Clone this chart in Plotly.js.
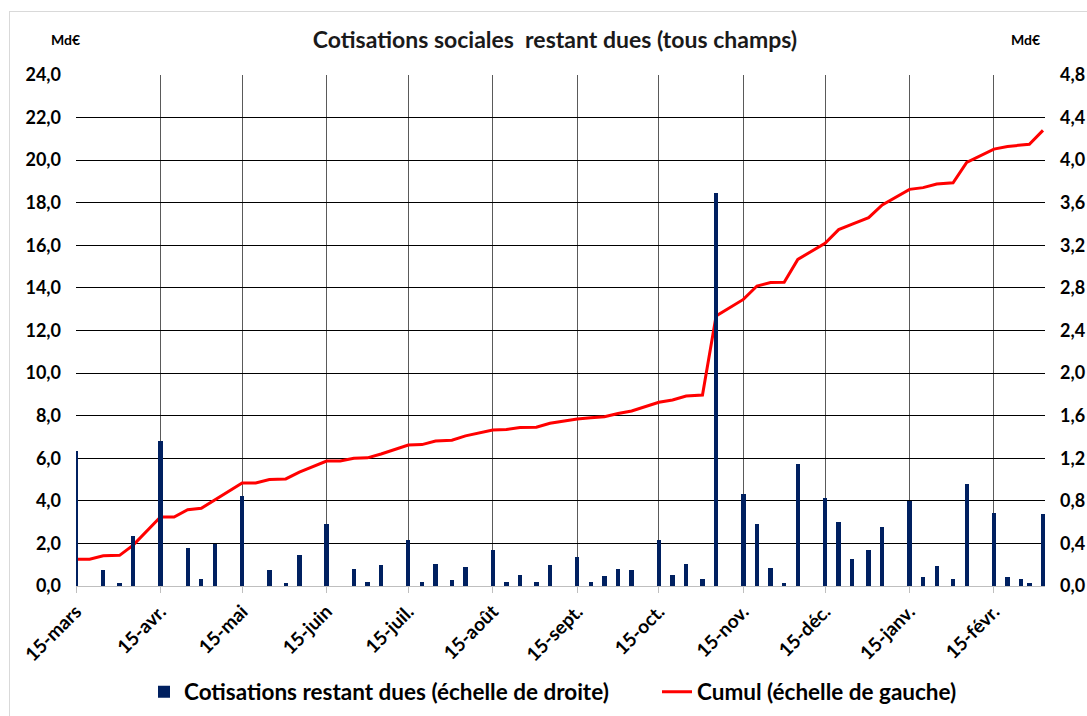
<!DOCTYPE html>
<html>
<head>
<meta charset="utf-8">
<script src="https://cdn.plot.ly/plotly-3.0.1.min.js"></script>
<style>
  html, body { margin: 0; padding: 0; background: #fff; overflow: hidden; }
  #chart { width: 1087px; height: 716px; }
  #frame { position: absolute; left: 9px; top: 11px; width: 1100px; height: 720px; border: 1px solid #d9d9d9; pointer-events: none; }
</style>
</head>
<body>
<div id="chart"></div>
<div id="frame"></div>
<script>
// Dates of the observations
const dates = [
  '2020-03-15','2020-03-20','2020-03-25','2020-03-31',
  '2020-04-05','2020-04-15','2020-04-20','2020-04-25','2020-04-30',
  '2020-05-05','2020-05-15','2020-05-20','2020-05-25','2020-05-31',
  '2020-06-05','2020-06-15','2020-06-20','2020-06-25','2020-06-30',
  '2020-07-05','2020-07-15','2020-07-20','2020-07-25','2020-07-31',
  '2020-08-05','2020-08-15','2020-08-20','2020-08-25','2020-08-31',
  '2020-09-05','2020-09-15','2020-09-20','2020-09-25','2020-09-30',
  '2020-10-05','2020-10-15','2020-10-20','2020-10-25','2020-10-31',
  '2020-11-05','2020-11-15','2020-11-20','2020-11-25','2020-11-30',
  '2020-12-05','2020-12-15','2020-12-20','2020-12-25','2020-12-31',
  '2021-01-05','2021-01-15','2021-01-20','2021-01-25','2021-01-31',
  '2021-02-05','2021-02-15','2021-02-20','2021-02-25','2021-02-28',
  '2021-03-05'
];

// Cotisations restant dues (échelle de droite), Md€
const dues = [
  1.27, 0, 0.15, 0.03,
  0.47, 1.36, 0, 0.36, 0.07,
  0.39, 0.85, 0, 0.15, 0.03,
  0.29, 0.58, 0, 0.157, 0.035,
  0.197, 0.43, 0.035, 0.21, 0.053,
  0.176, 0.335, 0.035, 0.10, 0.035,
  0.20, 0.27, 0.035, 0.094, 0.157,
  0.147, 0.43, 0.10, 0.21, 0.07,
  3.69, 0.86, 0.58, 0.166, 0.03,
  1.146, 0.83, 0.60, 0.25, 0.335,
  0.55, 0.80, 0.08, 0.19, 0.07,
  0.955, 0.69, 0.087, 0.07, 0.03,
  0.68
];

// Cumul (échelle de gauche), Md€
const cumul = [
  1.26, 1.26, 1.42, 1.44,
  1.92, 3.24, 3.24, 3.58, 3.65,
  4.04, 4.84, 4.84, 5.00, 5.03,
  5.35, 5.87, 5.87, 6.00, 6.02,
  6.20, 6.62, 6.64, 6.81, 6.85,
  7.05, 7.33, 7.35, 7.44, 7.46,
  7.64, 7.84, 7.90, 7.95, 8.10,
  8.22, 8.63, 8.74, 8.92, 8.97,
  12.68, 13.46, 14.09, 14.25, 14.27,
  15.34, 16.10, 16.74, 17.00, 17.30,
  17.90, 18.63, 18.71, 18.88, 18.94,
  19.90, 20.52, 20.64, 20.71, 20.75,
  21.40
];

const tickDates = ['2020-03-15','2020-04-15','2020-05-15','2020-06-15','2020-07-15','2020-08-15',
                   '2020-09-15','2020-10-15','2020-11-15','2020-12-15','2021-01-15','2021-02-15'];
const tickLabels = ['15-mars','15-avr.','15-mai','15-juin','15-juil.','15-août',
                    '15-sept.','15-oct.','15-nov.','15-déc.','15-janv.','15-févr.'];

const chartTitle = 'Cotisations sociales  restant dues (tous champs)';
const unitLabel = 'Md€';
const barName = 'Cotisations restant dues (échelle de droite)';
const lineName = 'Cumul (échelle de gauche)';

const FONT = 'Lato, "Open Sans", sans-serif';

const traces = [
  {
    type: 'scatter', mode: 'lines', name: lineName,
    x: dates, y: cumul, xaxis: 'x', yaxis: 'y',
    line: { color: '#ff0000', width: 3 },
    legend: 'legend2'
  },
  {
    type: 'bar', name: barName,
    x: dates, y: dues, xaxis: 'x', yaxis: 'y2',
    width: 1.6 * 86400000,
    marker: { color: '#002060', line: { width: 0 } },
    legend: 'legend'
  }
];

const legendFont = { family: FONT, size: 22.5, color: '#000', weight: 'bold' };
const legendY = (586 - 692) / 511;

const layout = {
  width: 1087, height: 716,
  margin: { l: 76, r: 42, t: 75, b: 130, autoexpand: false },
  paper_bgcolor: '#ffffff', plot_bgcolor: '#ffffff',
  separators: ', ',
  font: { family: FONT, color: '#000', size: 16 },
  showlegend: true,
  title: {
    text: '<b>' + chartTitle + '</b>',
    font: { family: FONT, size: 23, color: '#1a1a1a' },
    x: 555 / 1087, xref: 'container', xanchor: 'center',
    y: 1 - 40 / 716, yref: 'container', yanchor: 'middle'
  },
  xaxis: {
    type: 'date',
    range: ['2020-03-15', '2021-03-05 18:00'],
    tickmode: 'array', tickvals: tickDates, ticktext: tickLabels,
    tickangle: -45,
    tickfont: { family: FONT, size: 19, color: '#000', weight: 'bold' },
    showgrid: true, gridcolor: '#5a5a5a', gridwidth: 1,
    ticks: 'outside', ticklen: 6, tickcolor: '#bfbfbf',
    showline: false, zeroline: false, automargin: false,
    fixedrange: true
  },
  yaxis: {
    range: [0, 24], dtick: 2, tick0: 0,
    tickformat: '.1f',
    tickfont: { family: FONT, size: 18, color: '#000', weight: 'bold' },
    showgrid: true, gridcolor: '#000', gridwidth: 1,
    zeroline: true, zerolinecolor: '#bfbfbf', zerolinewidth: 1,
    showline: false, ticks: '', ticklabelstandoff: 14, automargin: false,
    fixedrange: true
  },
  yaxis2: {
    overlaying: 'y', side: 'right',
    range: [0, 4.8], dtick: 0.4, tick0: 0,
    tickformat: '.1f',
    tickfont: { family: FONT, size: 18, color: '#000', weight: 'bold' },
    showgrid: false, zeroline: false, showline: false, ticks: '',
    ticklabelstandoff: 14, automargin: false,
    fixedrange: true
  },
  legend: {
    orientation: 'h', x: (144 - 76) / 969, xanchor: 'left', xref: 'paper',
    y: legendY, yanchor: 'middle',
    font: legendFont, itemwidth: 30
  },
  legend2: {
    orientation: 'h', x: (657 - 76) / 969, xanchor: 'left', xref: 'paper',
    y: legendY, yanchor: 'middle',
    font: legendFont, itemwidth: 30
  },
  annotations: [
    { text: '<b>' + unitLabel + '</b>', xref: 'paper', yref: 'paper',
      x: (65 - 76) / 969, y: (586 - 40) / 511, xanchor: 'center', yanchor: 'middle',
      showarrow: false, font: { family: FONT, size: 14, color: '#000' } },
    { text: '<b>' + unitLabel + '</b>', xref: 'paper', yref: 'paper',
      x: (1025 - 76) / 969, y: (586 - 40) / 511, xanchor: 'center', yanchor: 'middle',
      showarrow: false, font: { family: FONT, size: 14, color: '#000' } }
  ],
  bargap: 0
};

Plotly.newPlot('chart', traces, layout, { displayModeBar: false, staticPlot: true });
</script>
</body>
</html>
